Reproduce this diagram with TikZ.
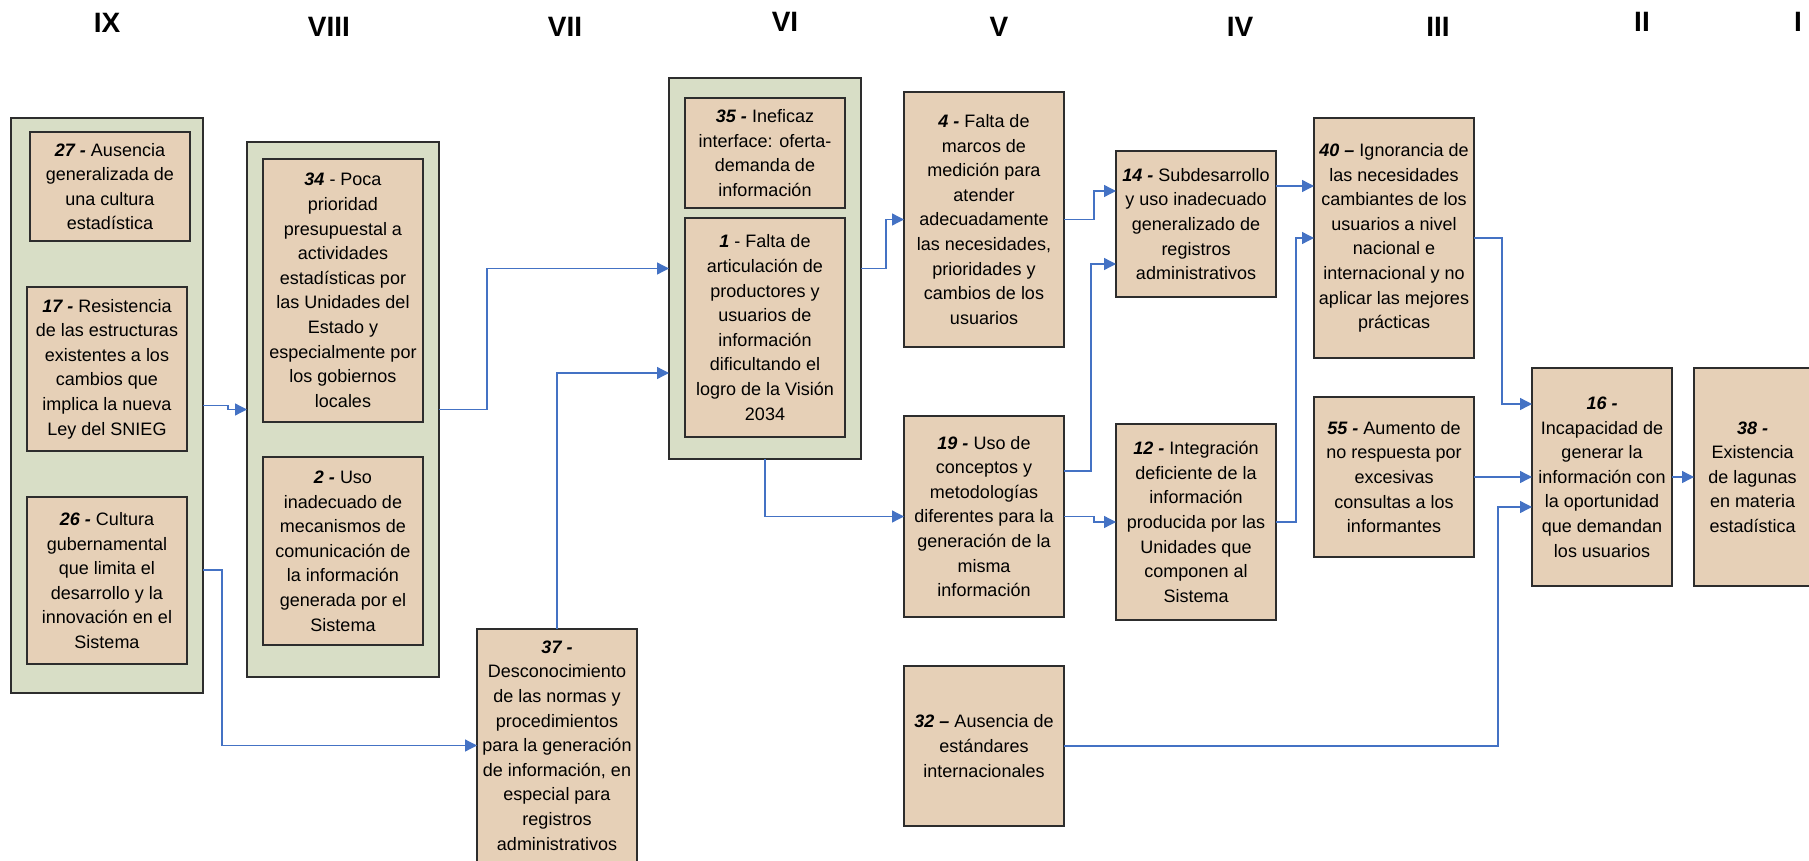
\documentclass[tikz,border=0pt]{standalone}
\usepackage{fontspec}
\setmainfont{Liberation Sans}
\usetikzlibrary{arrows.meta}
\definecolor{grpfill}{RGB}{216,222,198}
\definecolor{boxfill}{RGB}{230,208,183}
\definecolor{linkblue}{RGB}{68,114,196}
\definecolor{edgegray}{RGB}{45,45,45}
\newcommand{\num}[1]{\textbf{\textit{#1}}}

\begin{document}
\begin{tikzpicture}[x=1pt,y=1pt,yscale=-1,
  grp/.style={draw=edgegray,line width=1.4pt,fill=grpfill,inner sep=0pt,outer sep=0pt,minimum width=192pt},
  cause/.style={draw=edgegray,line width=1.4pt,fill=boxfill,inner sep=0pt,outer sep=0pt,minimum width=160pt,align=center,font=\fontsize{18}{24.6}\selectfont},
  level/.style={font=\fontsize{28}{28}\selectfont\bfseries},
  link/.style={draw=linkblue,line width=1.3pt,-{Triangle[length=12pt,width=12pt]}}]
\useasboundingbox (0,0) rectangle (1809,861);

% Level headings
\node[level] (lIX) at (107,23) {IX};
\node[level] (lVIII) at (329,27) {VIII};
\node[level] (lVII) at (565,27) {VII};
\node[level] (lVI) at (785,22) {VI};
\node[level] (lV) at (999,27) {V};
\node[level] (lIV) at (1240,27) {IV};
\node[level] (lIII) at (1438,27) {III};
\node[level] (lII) at (1642,22) {II};
\node[level] (lI) at (1798,22) {I};

% Group IX
\node[grp,minimum height=575pt] (g9) at (107,405.5) {};
\node[cause,minimum height=109pt] (b27) at (110,186.5) {\num{27 -} Ausencia\\generalizada de\\una cultura\\estadística};
\node[cause,minimum height=164pt] (b17) at (107,369) {\num{17 -} Resistencia\\de las estructuras\\existentes a los\\cambios que\\implica la nueva\\Ley del SNIEG};
\node[cause,minimum height=167pt] (b26) at (107,580.5) {\num{26 -} Cultura\\gubernamental\\que limita el\\desarrollo y la\\innovación en el\\Sistema};

% Group VIII
\node[grp,minimum height=535pt] (g8) at (343,409.5) {};
\node[cause,minimum height=263pt] (b34) at (343,290.5) {\num{34} - Poca\\prioridad\\presupuestal a\\actividades\\estadísticas por\\las Unidades del\\Estado y\\especialmente por\\los gobiernos\\locales};
\node[cause,minimum height=188pt] (b2) at (343,551) {\num{2 -} Uso\\inadecuado de\\mecanismos de\\comunicación de\\la información\\generada por el\\Sistema};

% Level VII
\node[cause,minimum height=233pt] (b37) at (557,745.5) {\num{37 -}\\Desconocimiento\\de las normas y\\procedimientos\\para la generación\\de información, en\\especial para\\registros\\administrativos};

% Group VI
\node[grp,minimum height=381pt] (g6) at (765,268.5) {};
\node[cause,minimum height=110pt] (b35) at (765,153) {\num{35 -} Ineficaz\\interface: oferta-\\demanda de\\información};
\node[cause,minimum height=219pt] (b1) at (765,327.5) {\num{1} - Falta de\\articulación de\\productores y\\usuarios de\\información\\dificultando el\\logro de la Visión\\2034};

% Level V
\node[cause,minimum height=255pt] (b4) at (984,219.5) {\num{4 -} Falta de\\marcos de\\medición para\\atender\\adecuadamente\\las necesidades,\\prioridades y\\cambios de los\\usuarios};
\node[cause,minimum height=201pt] (b19) at (984,516.5) {\num{19 -} Uso de\\conceptos y\\metodologías\\diferentes para la\\generación de la\\misma\\información};
\node[cause,minimum height=160pt] (b32) at (984,746) {\num{32 --} Ausencia de\\estándares\\internacionales};

% Level IV
\node[cause,minimum height=146pt] (b14) at (1196,224) {\num{14 -} Subdesarrollo\\y uso inadecuado\\generalizado de\\registros\\administrativos};
\node[cause,minimum height=196pt] (b12) at (1196,522) {\num{12 -} Integración\\deficiente de la\\información\\producida por las\\Unidades que\\componen al\\Sistema};

% Level III
\node[cause,minimum height=240pt] (b40) at (1394,238) {\num{40 --} Ignorancia de\\las necesidades\\cambiantes de los\\usuarios a nivel\\nacional e\\internacional y no\\aplicar las mejores\\prácticas};
\node[cause,minimum height=160pt] (b55) at (1394,477) {\num{55 -} Aumento de\\no respuesta por\\excesivas\\consultas a los\\informantes};

% Levels II and I
\node[cause,minimum width=140pt,minimum height=218pt] (b16) at (1602,477) {\num{16 -}\\Incapacidad de\\generar la\\información con\\la oportunidad\\que demandan\\los usuarios};
\node[cause,minimum width=117pt,minimum height=218pt] (b38) at (1752.5,477) {\num{38 -}\\Existencia\\de lagunas\\en materia\\estadística};

% Connectors
\draw[link] (g9.east) -- ++(25,0) |- (g8.west);
\draw[link] (g8.east) -- ++(48,0) |- (g6.west);
\draw[link] (g9.east |- 0,570) -- ++(19,0) |- (b37.west);
\draw[link] (b37.north) |- (g6.west |- 0,373);
\draw[link] (g6.east) -- ++(25,0) |- (b4.west);
\draw[link] (g6.south) |- (b19.west);
\draw[link] (b4.east) -- ++(30,0) |- (b14.west |- 0,191);
\draw[link] (b19.east |- 0,471) -- ++(27,0) |- (b14.west |- 0,264);
\draw[link] (b19.east) -- ++(30,0) |- (b12.west);
\draw[link] (b14.east |- 0,186) -- (b40.west |- 0,186);
\draw[link] (b12.east) -- ++(20,0) |- (b40.west);
\draw[link] (b40.east) -- ++(28,0) |- (b16.west |- 0,404);
\draw[link] (b55.east) -- (b16.west);
\draw[link] (b32.east) -- ++(434,0) |- (b16.west |- 0,507);
\draw[link] (b16.east) -- (b38.west);
\end{tikzpicture}
\end{document}
